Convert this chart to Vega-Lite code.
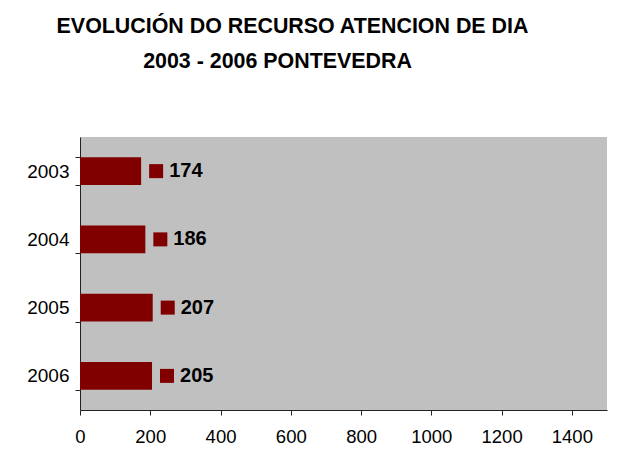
{
  "$schema": "https://vega.github.io/schema/vega-lite/v6.json",
  "width": 527,
  "height": 273,
  "autosize": {"type": "none"},
  "padding": {"left": 80, "top": 137, "right": 27, "bottom": 58},
  "background": "white",
  "title": {
    "text": ["EVOLUCIÓN DO RECURSO ATENCION DE DIA", "2003 - 2006 PONTEVEDRA\u2800\u2800"],
    "font": "Liberation Sans",
    "fontSize": 21.4,
    "fontWeight": "bold",
    "color": "black",
    "lineHeight": 35,
    "anchor": "middle",
    "dx": -51,
    "offset": 56
  },
  "data": {
    "values": [
      {"year": "2003", "value": 174},
      {"year": "2004", "value": 186},
      {"year": "2005", "value": 207},
      {"year": "2006", "value": 205}
    ]
  },
  "encoding": {
    "y": {
      "field": "year",
      "type": "nominal",
      "sort": ["2003", "2004", "2005", "2006"],
      "scale": {"paddingInner": 0.59, "paddingOuter": 0.295},
      "axis": {
        "title": null,
        "tickBand": "extent",
        "labelFont": "Liberation Sans",
        "labelFontSize": 19,
        "labelColor": "black",
        "labelPadding": 6,
        "tickSize": 5,
        "domainColor": "#222",
        "tickColor": "#222",
        "grid": false
      }
    },
    "x": {
      "field": "value",
      "type": "quantitative",
      "scale": {"domain": [0, 1500], "nice": false},
      "axis": {
        "title": null,
        "format": "d",
        "values": [0, 200, 400, 600, 800, 1000, 1200, 1400],
        "labelFont": "Liberation Sans",
        "labelFontSize": 18.5,
        "labelColor": "black",
        "labelPadding": 12,
        "tickSize": 5,
        "domainColor": "#222",
        "tickColor": "#222",
        "grid": false,
        "labelFlush": false
      }
    }
  },
  "layer": [
    {"mark": {"type": "bar", "color": "#800000"}},
    {
      "mark": {"type": "point", "shape": "square", "filled": true, "size": 196, "color": "#800000", "opacity": 1, "strokeWidth": 0},
      "encoding": {"xOffset": {"value": 15}}
    },
    {
      "mark": {"type": "text", "align": "left", "baseline": "middle", "dx": 28, "font": "Liberation Sans", "fontSize": 20, "fontWeight": "bold", "color": "black"},
      "encoding": {"text": {"field": "value", "type": "quantitative"}}
    }
  ],
  "config": {
    "view": {"fill": "#C0C0C0", "stroke": null}
  }
}
